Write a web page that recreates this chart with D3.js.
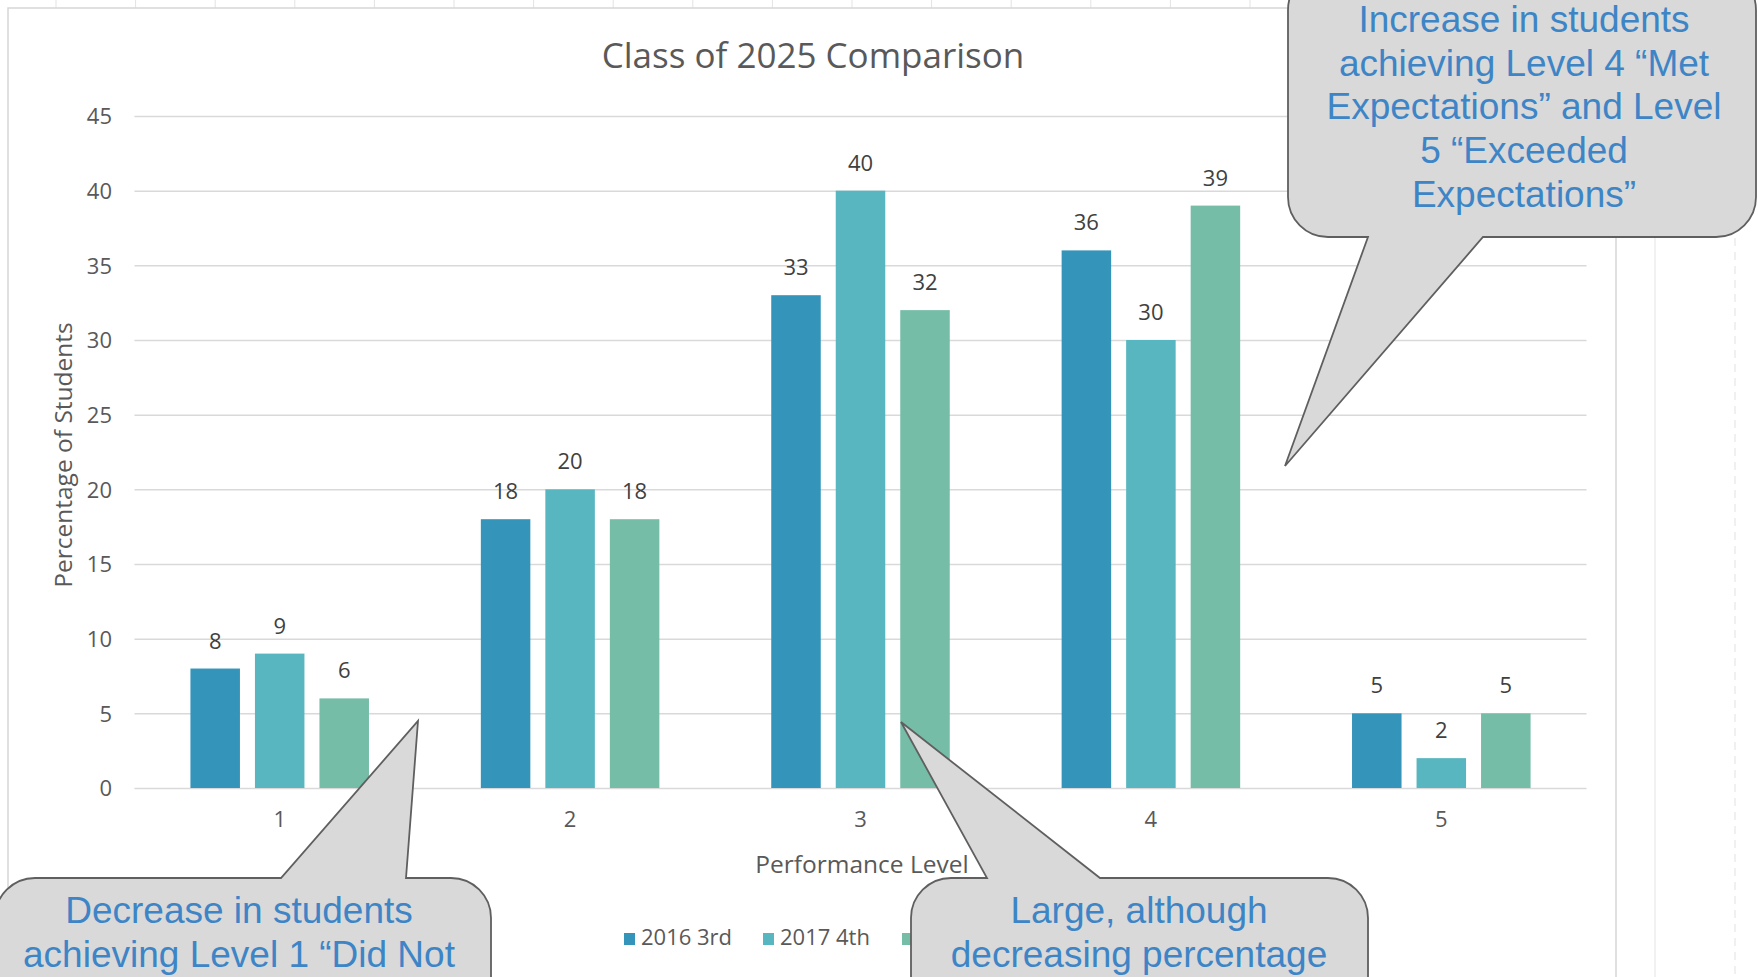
<!DOCTYPE html>
<html>
<head>
<meta charset="utf-8">
<script src="https://cdn.jsdelivr.net/npm/d3@7"></script>
<style>
  html, body { margin: 0; padding: 0; background: #ffffff; }
  svg { display: block; }
</style>
</head>
<body>
<svg id="chart" width="1758" height="977"></svg>
<script>
// ---- data ----
const categories = ["1", "2", "3", "4", "5"];
const seriesNames = ["2016 3rd", "2017 4th", "2018 5th"];
const values2016 = [8, 18, 33, 36, 5];
const values2017 = [9, 20, 40, 30, 2];
const values2018 = [6, 18, 32, 39, 5];
const yTicks = [0, 5, 10, 15, 20, 25, 30, 35, 40, 45];
const seriesColors = ["#3494BA", "#58B6C0", "#75BDA7"];

const chartTitle = "Class of 2025 Comparison";
const xTitle = "Performance Level";
const yTitle = "Percentage of Students";

const noteTopRight = ["Increase in students", "achieving Level 4 \u201cMet", "Expectations\u201d and Level", "5 \u201cExceeded", "Expectations\u201d"];
const noteBottomLeft = ["Decrease in students", "achieving Level 1 \u201cDid Not"];
const noteBottomMid = ["Large, although", "decreasing percentage"];

const seriesValues = [values2016, values2017, values2018];
const table = categories.map((c, i) => ({
  category: c,
  bars: seriesNames.map((s, j) => ({ series: s, value: seriesValues[j][i], color: seriesColors[j] }))
}));

// ---- layout ----
const svg = d3.select("#chart");
const W = 1758, H = 977;
const plot = { left: 134.5, right: 1586.5, top: 116, bottom: 788 };
const axisFont = "'Open Sans', 'Noto Sans', sans-serif";
const textGray = "#595959";

// spreadsheet column lines above the chart object
const sheet = svg.append("g");
sheet.selectAll("line.col")
  .data(d3.range(56, 1300, 79.6))
  .join("line")
  .attr("x1", d => d).attr("x2", d => d)
  .attr("y1", 0).attr("y2", 8)
  .attr("stroke", "#e3e3e3").attr("stroke-width", 1);
sheet.append("line").attr("x1", 1655).attr("x2", 1655).attr("y1", 0).attr("y2", H)
  .attr("stroke", "#ececec").attr("stroke-width", 1.5);
sheet.append("line").attr("x1", 1735).attr("x2", 1735).attr("y1", 0).attr("y2", H)
  .attr("stroke", "#e6e6e6").attr("stroke-width", 1.2).attr("stroke-dasharray", "8,6");

// chart object frame
svg.append("rect")
  .attr("x", 8).attr("y", 8).attr("width", 1608).attr("height", H + 20)
  .attr("fill", "#ffffff").attr("stroke", "#d6d6d6").attr("stroke-width", 1.5);

// ---- scales ----
const x0 = d3.scaleBand().domain(categories).range([plot.left, plot.right]).paddingInner(0).paddingOuter(0);
const x1 = d3.scaleBand().domain(seriesNames).range([0, x0.bandwidth()]).paddingInner(0.2326).paddingOuter(0.867);
const y = d3.scaleLinear().domain([0, 45]).range([plot.bottom, plot.top]);

// ---- gridlines + y axis ----
const yAxis = svg.append("g")
  .attr("transform", `translate(${plot.left},0)`)
  .call(d3.axisLeft(y).tickValues(yTicks).tickSize(-(plot.right - plot.left)).tickPadding(22.5));
yAxis.select(".domain").remove();
yAxis.selectAll(".tick line").attr("stroke", "#d9d9d9").attr("stroke-width", 1.5);
yAxis.selectAll(".tick text")
  .attr("fill", textGray).attr("font-family", axisFont).attr("font-size", 22).attr("dy", "0.36em");

// ---- bars ----
const groups = svg.append("g").selectAll("g")
  .data(table).join("g")
  .attr("transform", d => `translate(${x0(d.category)},0)`);

groups.selectAll("rect")
  .data(d => d.bars).join("rect")
  .attr("x", d => x1(d.series))
  .attr("width", x1.bandwidth())
  .attr("y", d => y(d.value))
  .attr("height", d => y(0) - y(d.value))
  .attr("fill", d => d.color);

groups.selectAll("text.val")
  .data(d => d.bars).join("text")
  .attr("class", "val")
  .attr("x", d => x1(d.series) + x1.bandwidth() / 2)
  .attr("y", d => y(d.value) - 20)
  .attr("text-anchor", "middle")
  .attr("fill", "#404040").attr("font-family", axisFont).attr("font-size", 22)
  .text(d => d.value);

// ---- x axis labels ----
const xAxis = svg.append("g")
  .attr("transform", `translate(0,${plot.bottom})`)
  .call(d3.axisBottom(x0).tickSize(0).tickPadding(0));
xAxis.select(".domain").remove();
xAxis.selectAll(".tick text")
  .attr("fill", textGray).attr("font-family", axisFont).attr("font-size", 22)
  .attr("dy", null).attr("y", 39);

// ---- titles ----
svg.append("text")
  .attr("x", 813).attr("y", 68)
  .attr("text-anchor", "middle")
  .attr("fill", textGray).attr("font-family", axisFont).attr("font-size", 35)
  .text(chartTitle);

svg.append("text")
  .attr("x", 862).attr("y", 873)
  .attr("text-anchor", "middle")
  .attr("fill", textGray).attr("font-family", axisFont).attr("font-size", 24.5)
  .text(xTitle);

svg.append("text")
  .attr("transform", `translate(72,${(323 + 587) / 2}) rotate(-90)`)
  .attr("text-anchor", "middle")
  .attr("fill", textGray).attr("font-family", axisFont).attr("font-size", 24.5)
  .text(yTitle);

// ---- legend ----
const legend = svg.append("g").selectAll("g")
  .data(seriesNames).join("g")
  .attr("transform", (d, i) => `translate(${624 + i * 139},0)`);
legend.append("rect")
  .attr("x", 0).attr("y", 933).attr("width", 11).attr("height", 12)
  .attr("fill", (d, i) => seriesColors[i]);
legend.append("text")
  .attr("x", 17).attr("y", 945)
  .attr("fill", textGray).attr("font-family", axisFont).attr("font-size", 22)
  .text(d => d);

// ---- speech-bubble callouts ----
function calloutPath(b, r, p) {
  const { x0: L, x1: R, y0: T, y1: B } = b;
  const arc = (x, yy) => `A${r},${r} 0 0 1 ${x},${yy}`;
  let d = `M${L + r},${T}`;
  if (p.side === "top") d += `L${p.a},${T}L${p.tx},${p.ty}L${p.c},${T}`;
  d += `L${R - r},${T}` + arc(R, T + r) + `L${R},${B - r}` + arc(R - r, B);
  if (p.side === "bottom") d += `L${p.c},${B}L${p.tx},${p.ty}L${p.a},${B}`;
  d += `L${L + r},${B}` + arc(L, B - r) + `L${L},${T + r}` + arc(L + r, T) + "Z";
  return d;
}

const callouts = [
  { box: { x0: 1288, x1: 1756, y0: -30, y1: 237 }, ptr: { side: "bottom", a: 1368, c: 1483, tx: 1285, ty: 466 },
    lines: noteTopRight, cx: 1524, base: 32 },
  { box: { x0: -5, x1: 491, y0: 878, y1: 1020 }, ptr: { side: "top", a: 281, c: 406, tx: 418, ty: 721 },
    lines: noteBottomLeft, cx: 239, base: 923 },
  { box: { x0: 911, x1: 1368, y0: 878, y1: 1020 }, ptr: { side: "top", a: 987, c: 1100, tx: 901, ty: 722 },
    lines: noteBottomMid, cx: 1139, base: 923 }
];

const notes = svg.append("g").selectAll("g").data(callouts).join("g");
notes.append("path")
  .attr("d", d => calloutPath(d.box, 40, d.ptr))
  .attr("fill", "#d9d9d9").attr("stroke", "#5f5f5f").attr("stroke-width", 1.8)
  .attr("stroke-linejoin", "miter");
notes.each(function (d) {
  d3.select(this).selectAll("text").data(d.lines).join("text")
    .attr("x", d.cx)
    .attr("y", (t, i) => d.base + i * 43.7)
    .attr("text-anchor", "middle")
    .attr("fill", "#3d85c6")
    .attr("font-family", "'Liberation Sans', Arial, sans-serif")
    .attr("font-size", 37)
    .text(t => t);
});
</script>
</body>
</html>
